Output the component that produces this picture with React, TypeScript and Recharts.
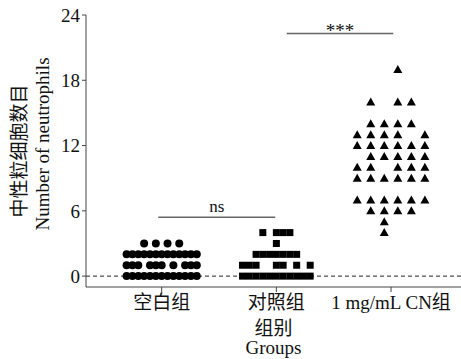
import React from 'react';
import { ScatterChart, Scatter, XAxis, YAxis, ReferenceLine } from 'recharts';

const groups = ['空白组', '对照组', '1 mg/mL CN组'];
const yTicks = [0, 6, 12, 18, 24];

// each row = one count value; slots are the horizontal swarm positions of the animals with that count
const blankRows = [
  { count: 0, slots: [-6, -5, -4, -3, -2, -1, 0, 1, 2, 3, 4, 5, 6] },
  { count: 1, slots: [-6, -5, -4, -2, -1, 0, 2, 4, 5, 6] },
  { count: 2, slots: [-6, -5, -4, -3, -2, -1, 0, 1, 2, 3, 4, 5, 6] },
  { count: 3, slots: [-3, -1, 1, 3] },
];

const controlRows = [
  { count: 0, slots: [-5, -4, -3, -2, -1, 0, 1, 2, 3, 4, 5] },
  { count: 1, slots: [-5, -4, -3, 0, 1, 3, 5] },
  { count: 2, slots: [-3, -2, -1, 0, 1, 2, 3] },
  { count: 3, slots: [0] },
  { count: 4, slots: [-2, 0, 1, 2] },
];

const cnRows = [
  { count: 4, slots: [-1] },
  { count: 5, slots: [-1] },
  { count: 6, slots: [-3, -1, 1, 3] },
  { count: 7, slots: [-5, -3, -1, 1, 3, 5] },
  { count: 9, slots: [-5, -3, -1, 1, 3, 5] },
  { count: 10, slots: [-5, -3, 1, 3, 5] },
  { count: 11, slots: [-3, -1, 1, 3, 5] },
  { count: 12, slots: [-5, -3, -1, 1, 3, 5] },
  { count: 13, slots: [-5, -3, -1, 1, 5] },
  { count: 14, slots: [-3, -1, 1, 3] },
  { count: 16, slots: [-3, 1, 3] },
  { count: 19, slots: [1] },
];

// significance brackets: [from, to] in group positions, height in counts
const nsBar = { from: 0.97, to: 1.99, y: 5.4, text: 'ns' };
const cnBar = { from: 2.09, to: 3.02, y: 22.3, text: '***' };

const SERIF = "'Liberation Serif', 'Noto Sans CJK SC', serif";
const INK = '#111';

const toPoints = (rows: { count: number; slots: number[] }[], group: number, step: number) =>
  rows.flatMap((r) => r.slots.map((s) => ({ x: group + s * step, y: r.count })));

const blankPts = toPoints(blankRows, 1, 0.051);
const controlPts = toPoints(controlRows, 2, 0.059);
const cnPts = toPoints(cnRows, 3, 0.059);

const Dot = (p: any) => <circle cx={p.cx} cy={p.cy} r={4} fill="#000" />;
const Box = (p: any) => <rect x={p.cx - 3.5} y={p.cy - 3.5} width={7} height={7} fill="#000" />;
const Tri = (p: any) => (
  <path d={`M${p.cx},${p.cy - 4.5}L${p.cx + 4.5},${p.cy + 3.5}L${p.cx - 4.5},${p.cy + 3.5}Z`} fill="#000" />
);

const GroupTick = (p: any) => (
  <text x={p.x} y={p.y + 15} textAnchor="middle" fontSize={19} fill={INK} fontFamily={SERIF}>
    {groups[p.payload.value - 1]}
  </text>
);

const XTitle = (p: any) => {
  const { x, y, width } = p.viewBox;
  const cx = x + width / 2;
  return (
    <g fontFamily={SERIF} fill={INK} fontSize={19} textAnchor="middle">
      <text x={cx} y={y + 48}>组别</text>
      <text x={cx} y={y + 67}>Groups</text>
    </g>
  );
};

const YTitle = (p: any) => {
  const { y, height } = p.viewBox;
  const cy = y + height / 2;
  return (
    <g fontFamily={SERIF} fill={INK} fontSize={19} textAnchor="middle">
      <text transform={`translate(26, ${cy}) rotate(-90)`}>中性粒细胞数目</text>
      <text transform={`translate(49, ${cy - 7}) rotate(-90)`}>Number of neutrophils</text>
    </g>
  );
};

// bracket caption sitting just above the bracket line
const SigText = (p: any) => {
  const { x, y, width } = p.viewBox;
  return (
    <text x={x + width / 2} y={y + p.dy} textAnchor="middle" fontSize={p.size} fill={INK} fontFamily={SERIF}>
      {p.text}
    </text>
  );
};

export default function App() {
  return (
    <div style={{ position: 'absolute', left: 0, top: 0, background: '#fff' }}>
      <ScatterChart width={461} height={359} margin={{ top: 15, right: 0, bottom: 0, left: 0 }}>
        <XAxis
          dataKey="x"
          type="number"
          domain={[0.34, 3.61]}
          ticks={[1, 2, 3]}
          allowDataOverflow
          stroke="#444"
          tickSize={5}
          height={72}
          tick={<GroupTick />}
          label={<XTitle />}
        />
        <YAxis
          dataKey="y"
          type="number"
          domain={[-1, 24]}
          ticks={yTicks}
          allowDataOverflow
          stroke="#444"
          tickSize={4}
          width={86}
          tick={{ fontSize: 19, fill: INK, fontFamily: SERIF }}
          label={<YTitle />}
        />
        <ReferenceLine y={0} stroke="#222" strokeDasharray="4 3" />
        <ReferenceLine
          segment={[{ x: nsBar.from, y: nsBar.y }, { x: nsBar.to, y: nsBar.y }]}
          stroke="#666"
          strokeWidth={1.5}
          label={<SigText text={nsBar.text} dy={-5} size={17} />}
        />
        <ReferenceLine
          segment={[{ x: cnBar.from, y: cnBar.y }, { x: cnBar.to, y: cnBar.y }]}
          stroke="#666"
          strokeWidth={1.5}
          label={<SigText text={cnBar.text} dy={4} size={19} />}
        />
        <Scatter data={blankPts} shape={Dot} isAnimationActive={false} />
        <Scatter data={controlPts} shape={Box} isAnimationActive={false} />
        <Scatter data={cnPts} shape={Tri} isAnimationActive={false} />
      </ScatterChart>
    </div>
  );
}
